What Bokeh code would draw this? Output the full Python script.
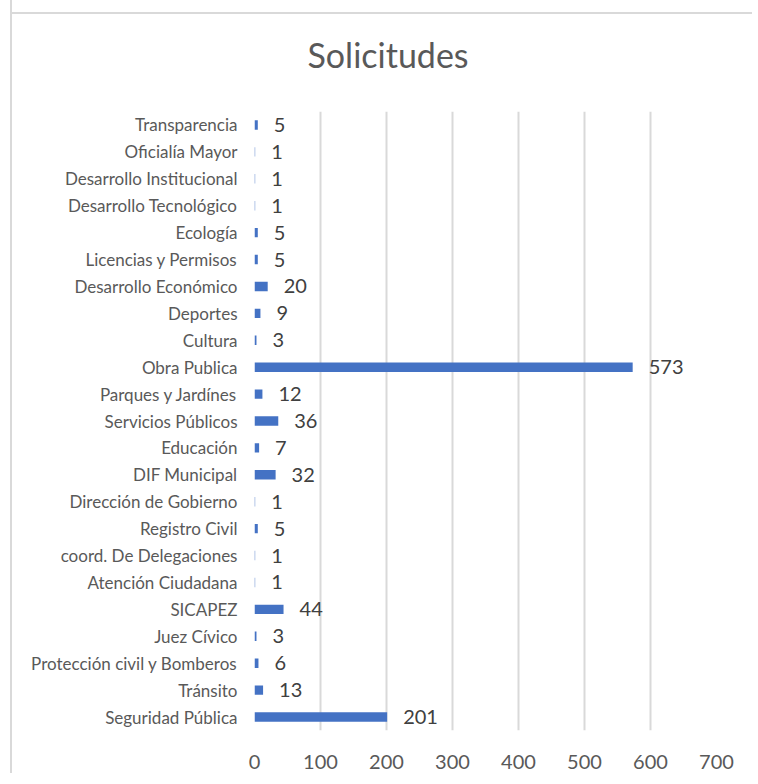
from bokeh.plotting import figure
from bokeh.models import ColumnDataSource, Range1d, FactorRange, FixedTicker, InlineStyleSheet
from bokeh.core.properties import value
from bokeh.embed import file_html
from bokeh.resources import INLINE

# Categories listed bottom to top
categories = [
    "Seguridad Pública",
    "Tránsito",
    "Protección civil y Bomberos",
    "Juez Cívico",
    "SICAPEZ",
    "Atención Ciudadana",
    "coord. De Delegaciones",
    "Registro Civil",
    "Dirección de Gobierno",
    "DIF Municipal",
    "Educación",
    "Servicios Públicos",
    "Parques y Jardínes",
    "Obra Publica",
    "Cultura",
    "Deportes",
    "Desarrollo Económico",
    "Licencias y Permisos",
    "Ecología",
    "Desarrollo Tecnológico",
    "Desarrollo Institucional",
    "Oficialía Mayor",
    "Transparencia",
]
counts = [201, 13, 6, 3, 44, 1, 1, 5, 1, 32, 7, 36, 12, 573, 3, 9, 20, 5, 5, 1, 1, 1, 5]
x_ticks = [0, 100, 200, 300, 400, 500, 600, 700]

src = ColumnDataSource(dict(cat=categories, val=counts, label=[str(v) for v in counts]))

p = figure(
    width=742, height=775,
    y_range=FactorRange(factors=categories, range_padding=0),
    x_range=Range1d(0, 700),
    output_backend="svg", toolbar_location=None,
    min_border_left=242, min_border_right=38, min_border_top=0, min_border_bottom=43,
)
p.styles = {"border-left": "2px solid #d9d9d9", "margin-left": "10px", "margin-top": "-2px"}
p.stylesheets = [InlineStyleSheet(css=(
    ":host::after {content: ''; position: absolute; left: -2px; top: 14px; "
    "width: calc(100% + 2px); height: 2px; background: #d9d9d9; z-index: 50; pointer-events: none;}"
))]
p.outline_line_color = None
p.background_fill_color = "white"
p.border_fill_color = "white"

p.hbar(y="cat", left=0, right="val", height=0.35, fill_color="#4472C4", line_color=None, source=src)
p.text(x="val", y="cat", text="label", x_offset=16, text_baseline="middle", text_align="left",
       text_font=value("Lato"), text_font_size="20px", text_color="#404040", source=src)

p.title.text = "Solicitudes"
p.title.align = "left"
p.title.vertical_align = "top"
p.title.offset = 53
p.title.standoff = 70
p.title.text_font = "Lato"
p.title.text_font_size = "34px"
p.title.text_font_style = "normal"
p.title.text_color = "#595959"

p.xaxis.ticker = FixedTicker(ticks=x_ticks)
p.xgrid.ticker = FixedTicker(ticks=x_ticks)
p.xgrid.grid_line_color = "#d9d9d9"
p.xgrid.grid_line_width = 2
p.ygrid.visible = False

for ax in (p.xaxis, p.yaxis):
    ax.axis_line_color = None
    ax.major_tick_line_color = None
    ax.minor_tick_line_color = None
    ax.major_label_text_font = "Lato"
    ax.major_label_text_color = "#595959"
p.xaxis.major_label_standoff = 18
p.yaxis.major_label_standoff = 11
p.xaxis.major_label_text_font_size = "20px"
p.yaxis.major_label_text_font_size = "17px"

open("out.html", "w").write(file_html(p, INLINE))
